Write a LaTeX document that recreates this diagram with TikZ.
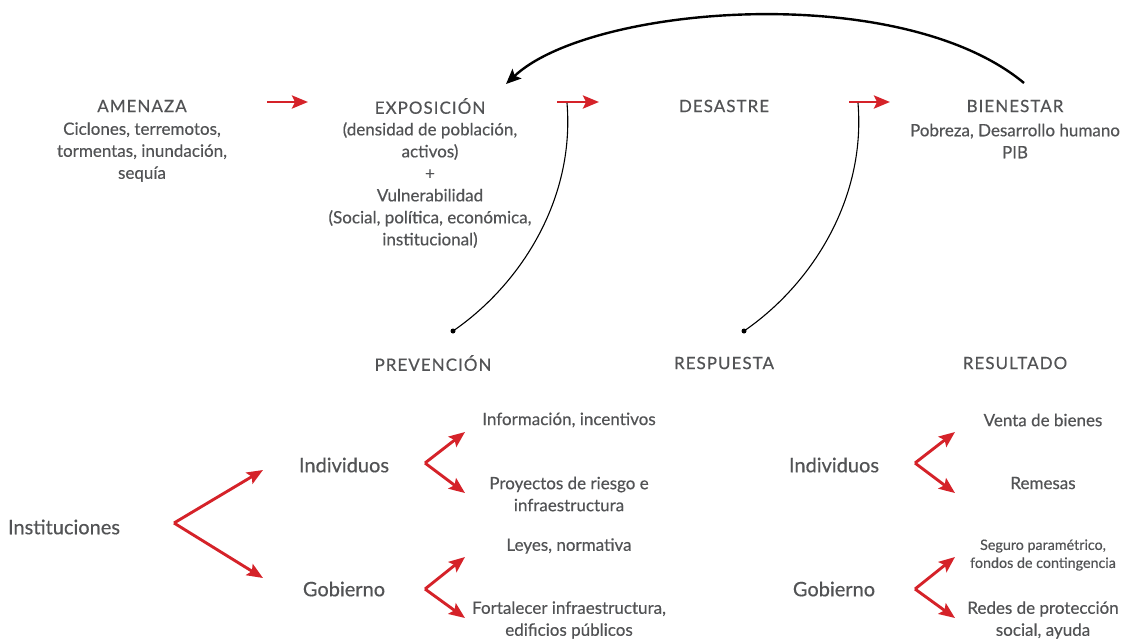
\documentclass[tikz,border=0pt]{standalone}
\usepackage{fontspec}
\setmainfont{Lato}[FakeBold=0.4]
\usetikzlibrary{arrows.meta}
\definecolor{gris}{HTML}{525355}
\definecolor{rojo}{HTML}{D52229}

\begin{document}
\begin{tikzpicture}
  [x=1pt,y=-1pt,
   tit/.style={text=gris,inner sep=0pt,font=\fontsize{17}{20}\selectfont\addfontfeatures{LetterSpace=6}},
   txt/.style={text=gris,inner sep=0pt,align=center,font=\fontsize{17}{22}\selectfont},
   sml/.style={text=gris,inner sep=0pt,align=center,font=\fontsize{14.3}{18}\selectfont},
   big/.style={text=gris,inner sep=0pt,font=\fontsize{20}{22}\selectfont},
   roja/.style={draw=rojo,line width=2.9pt,-{Stealth[length=16pt,width=13pt,inset=3pt]}},
   negra/.style={draw=black,line width=2.4pt,-{Stealth[length=15pt,width=13pt,inset=3pt]}},
   fina/.style={draw=black,line width=1.1pt},
   punto/.style={circle,fill=black,inner sep=0pt,minimum size=5pt}]
  \useasboundingbox (0,0) rectangle (1122,641);

  % fila de arriba
  \node[tit] (amenaza) at (142,106) {AMENAZA};
  \node[txt] (amenazaT) at (142,152) {Ciclones, terremotos,\\tormentas, inundación,\\sequía};
  \node[tit] (exposicion) at (430,106) {EXPOSICIÓN};
  \node[txt] (exposicionT) at (430,185) {(densidad de población,\\activos)\\+\\Vulnerabilidad\\(Social, política, económica,\\institucional)};
  \node[tit] (desastre) at (724,106) {DESASTRE};
  \node[tit] (bienestar) at (1015,106) {BIENESTAR};
  \node[txt] (bienestarT) at (1015,141) {Pobreza, Desarrollo humano\\PIB};

  \coordinate (a1) at (267,102); \coordinate (b1) at (308,102);
  \coordinate (a2) at (557,102); \coordinate (b2) at (599,102);
  \coordinate (a3) at (849,102); \coordinate (b3) at (890,102);
  \coordinate (arcA) at (1024,83); \coordinate (arcB) at (506,84);

  \path (a1) edge[roja] (b1) (a2) edge[roja] (b2) (a3) edge[roja] (b3);
  \draw[negra] (arcA) .. controls (900,-20) and (590,5) .. (arcB);

  % fila del medio
  \node[tit] (prevencion) at (433,363) {PREVENCIÓN};
  \node[tit] (respuesta) at (724,363) {RESPUESTA};
  \node[tit] (resultado) at (1015,363) {RESULTADO};
  \node[punto] (p1) at (453,331) {};
  \node[punto] (p2) at (744,331) {};
  \coordinate (c1) at (567,103); \coordinate (c2) at (858,103);
  \draw[fina] (p1.center) .. controls (520,285) and (575,200) .. (c1);
  \draw[fina] (p2.center) .. controls (811,285) and (866,200) .. (c2);

  % prevencion
  \node[big] (inst) at (64,527) {Instituciones};
  \node[big] (indiv1) at (344,465) {Individuos};
  \node[big] (gob1) at (344,589) {Gobierno};
  \node[txt] (info) at (569,420) {Información, incentivos};
  \node[txt] (proy) at (569,494) {Proyectos de riesgo e\\infraestructura};
  \node[txt] (leyes) at (569,546) {Leyes, normativa};
  \node[txt] (fort) at (569,620) {Fortalecer infraestructura,\\edificios públicos};

  \coordinate (v0) at (174,523);
  \coordinate (v1) at (425,463); \coordinate (v2) at (425,589);
  \path (v0) edge[roja] (263,470) (v0) edge[roja] (263,578)
        (v1) edge[roja] (465,432) (v1) edge[roja] (465,493)
        (v2) edge[roja] (465,557) (v2) edge[roja] (465,618);

  % respuesta / resultado
  \node[big] (indiv2) at (834,465) {Individuos};
  \node[big] (gob2) at (834,589) {Gobierno};
  \node[txt] (venta) at (1043,420) {Venta de bienes};
  \node[txt] (remesas) at (1043,483) {Remesas};
  \node[sml] (seguro) at (1043,555) {Seguro paramétrico,\\fondos de contingencia};
  \node[txt] (redes) at (1043,620) {Redes de protección\\social, ayuda};

  \coordinate (v3) at (915,463); \coordinate (v4) at (915,589);
  \path (v3) edge[roja] (955,432) (v3) edge[roja] (955,493)
        (v4) edge[roja] (955,557) (v4) edge[roja] (955,618);
\end{tikzpicture}
\end{document}
